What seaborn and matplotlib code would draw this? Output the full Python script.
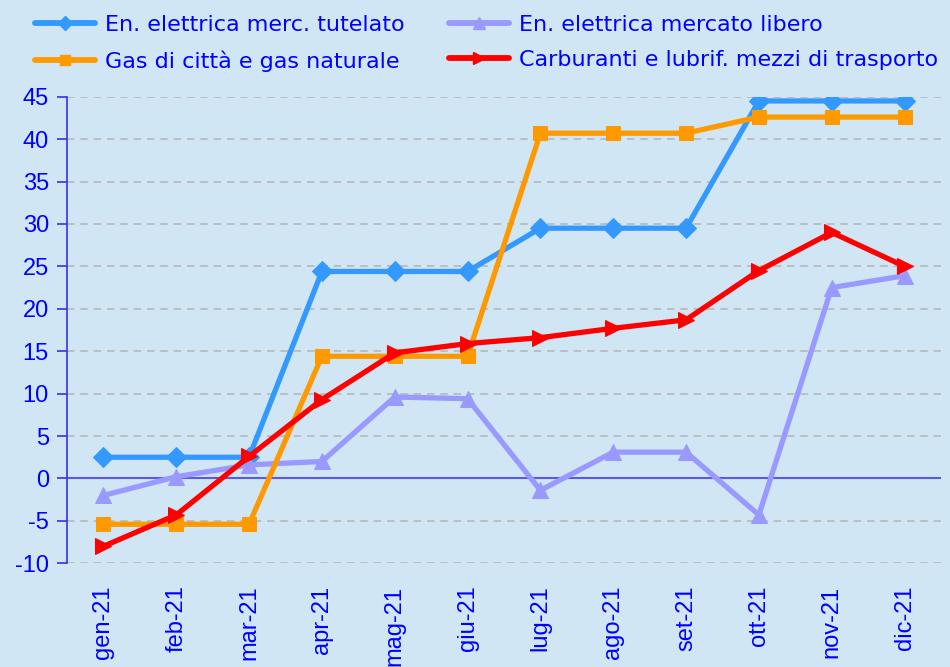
import pandas as pd
import matplotlib.pyplot as plt
from matplotlib.lines import Line2D
import seaborn as sns

# Data
mesi = ['gen-21', 'feb-21', 'mar-21', 'apr-21', 'mag-21', 'giu-21',
        'lug-21', 'ago-21', 'set-21', 'ott-21', 'nov-21', 'dic-21']
tutelato = [2.5, 2.5, 2.5, 24.4, 24.4, 24.4, 29.5, 29.5, 29.5, 44.5, 44.5, 44.5]
libero = [-2.0, 0.2, 1.6, 2.0, 9.6, 9.4, -1.4, 3.1, 3.1, -4.3, 22.5, 23.9]
gas = [-5.4, -5.4, -5.4, 14.4, 14.4, 14.4, 40.7, 40.7, 40.7, 42.6, 42.6, 42.6]
carburanti = [-8.0, -4.3, 2.6, 9.3, 14.8, 15.9, 16.6, 17.7, 18.7, 24.5, 29.0, 25.0]
yticks = list(range(-10, 50, 5))

series = [
    ('En. elettrica merc. tutelato', tutelato, '#3399ff', 'D', 10),
    ('En. elettrica mercato libero', libero, '#9999ff', '^', 11),
    ('Gas di città e gas naturale', gas, '#ff9900', 's', 10),
    ('Carburanti e lubrif. mezzi di trasporto', carburanti, '#ff0000', '>', 11),
]

bg = '#d0e6f4'
txt = '#0000ff'

sns.set_style('white')
plt.rcParams['font.family'] = ['Liberation Sans', 'DejaVu Sans']
plt.rcParams['axes.unicode_minus'] = False

fig = plt.figure(figsize=(9.5, 6.67), dpi=100, facecolor=bg)
ax = fig.add_axes([0.0705, 0.1555, 0.92, 0.6995])
ax.set_facecolor(bg)

# grid and zero line
for y in yticks:
    if y == 0:
        continue
    ax.axhline(y, color='#b8b8b8', lw=1.2, ls=(0, (4.5, 3.5)), zorder=0)
ax.axhline(0, color='#5a5ae6', lw=1.5, zorder=1)

x = list(range(len(mesi)))
handles = {}
for name, vals, col, mk, ms in series:
    df = pd.DataFrame({'x': x, 'y': vals})
    sns.lineplot(data=df, x='x', y='y', ax=ax, color=col, lw=3.8,
                 marker=mk, markersize=ms, markeredgecolor=col, zorder=3)
    handles[name] = Line2D([], [], color=col, lw=4.2, marker=mk,
                           markersize=ms * 0.75, markeredgecolor=col)

ax.set_xlim(-0.5, 11.5)
ax.set_ylim(-10, 45)
ax.set_xticks(x)
ax.set_xticklabels(mesi, rotation=90, va='top', ha='center')
ax.set_yticks(yticks)
ax.tick_params(axis='x', length=0, pad=16, labelsize=17, labelcolor=txt)
ax.tick_params(axis='y', length=7, width=1.2, color='#3333ee', pad=6,
               labelsize=17, labelcolor=txt, left=True)
ax.set_xlabel('')
ax.set_ylabel('')
for s in ['top', 'right', 'bottom']:
    ax.spines[s].set_visible(False)
ax.spines['left'].set_color('#3333ee')
ax.spines['left'].set_linewidth(1.2)

order = ['En. elettrica merc. tutelato', 'Gas di città e gas naturale',
         'En. elettrica mercato libero', 'Carburanti e lubrif. mezzi di trasporto']
leg = fig.legend([handles[k] for k in order], order, ncol=2, loc='upper left',
                 bbox_to_anchor=(35 / 950, 0.978), frameon=False,
                 borderpad=0, borderaxespad=0,
                 handlelength=2.7, handletextpad=0.45, columnspacing=2.0,
                 labelspacing=0.7, prop={'family': 'DejaVu Sans', 'size': 16})
for t in leg.get_texts():
    t.set_color(txt)

fig.savefig('out.png', dpi=100, facecolor=bg)
